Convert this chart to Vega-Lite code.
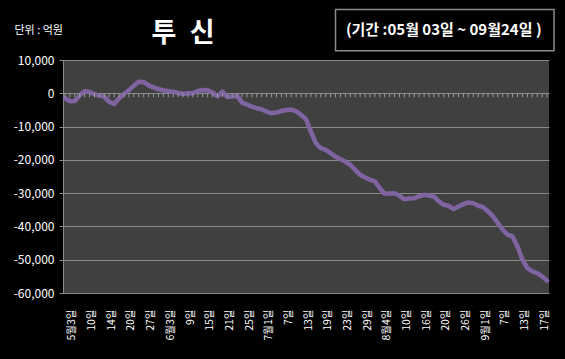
{
  "$schema": "https://vega.github.io/schema/vega-lite/v6.json",
  "width": 486,
  "height": 233,
  "autosize": {"type": "none"},
  "padding": {"left": 63, "top": 60, "right": 16, "bottom": 66},
  "background": "black",
  "config": {
    "view": {"fill": "#404040", "stroke": null},
    "font": "Noto Sans CJK KR",
    "axisY": {
      "tickCount": 8,
      "labelExpr": "replace(format(datum.value, ','), '\u2212', '-')",
      "titleAngle": 0,
      "titleX": -49,
      "titleY": -30,
      "titleAlign": "left",
      "titleBaseline": "middle",
      "titleFontSize": 11,
      "titleFontWeight": "normal",
      "titleColor": "white",
      "labelColor": "white",
      "labelFontSize": 12,
      "labelPadding": 5,
      "labelOverlap": false,
      "labelBound": false,
      "labelFlush": false,
      "tickColor": "#8a8a8a",
      "tickSize": 4,
      "domainColor": "#8a8a8a",
      "grid": true,
      "gridColor": "#8a8a8a",
      "gridOpacity": 1
    },
    "axisX": {
      "labelAngle": -90,
      "labelColor": "white",
      "labelFontSize": 10.5,
      "labelPadding": 16,
      "labelOffset": 7,
      "labelOverlap": false,
      "ticks": false,
      "domain": false,
      "grid": false
    }
  },
  "datasets": {
    "flow": [
      {"d": "05-03", "v": -1500}, {"d": "05-04", "v": -2400}, {"d": "05-06", "v": -2300}, {"d": "05-07", "v": -600},
      {"d": "05-10", "v": 600}, {"d": "05-11", "v": 400}, {"d": "05-12", "v": -300}, {"d": "05-13", "v": -700},
      {"d": "05-14", "v": -1000}, {"d": "05-17", "v": -2600}, {"d": "05-18", "v": -3200}, {"d": "05-19", "v": -1500},
      {"d": "05-20", "v": -200}, {"d": "05-24", "v": 900}, {"d": "05-25", "v": 2300}, {"d": "05-26", "v": 3500},
      {"d": "05-27", "v": 3400}, {"d": "05-28", "v": 2400}, {"d": "05-31", "v": 1800}, {"d": "06-01", "v": 1200},
      {"d": "06-03", "v": 900}, {"d": "06-04", "v": 600}, {"d": "06-07", "v": 500}, {"d": "06-08", "v": 100},
      {"d": "06-09", "v": -200}, {"d": "06-10", "v": 0}, {"d": "06-11", "v": 0}, {"d": "06-14", "v": 700},
      {"d": "06-15", "v": 1000}, {"d": "06-16", "v": 900}, {"d": "06-17", "v": 200}, {"d": "06-18", "v": -900},
      {"d": "06-21", "v": 500}, {"d": "06-22", "v": -1100}, {"d": "06-23", "v": -1000}, {"d": "06-24", "v": -800},
      {"d": "06-25", "v": -2800}, {"d": "06-28", "v": -3400}, {"d": "06-29", "v": -4000}, {"d": "06-30", "v": -4500},
      {"d": "07-01", "v": -4800}, {"d": "07-02", "v": -5500}, {"d": "07-05", "v": -6000}, {"d": "07-06", "v": -5800},
      {"d": "07-07", "v": -5300}, {"d": "07-08", "v": -5000}, {"d": "07-09", "v": -4900}, {"d": "07-12", "v": -5400},
      {"d": "07-13", "v": -6500}, {"d": "07-14", "v": -7800}, {"d": "07-15", "v": -11500}, {"d": "07-16", "v": -15000},
      {"d": "07-19", "v": -16500}, {"d": "07-20", "v": -17000}, {"d": "07-21", "v": -18000}, {"d": "07-22", "v": -19000},
      {"d": "07-23", "v": -19800}, {"d": "07-26", "v": -20500}, {"d": "07-27", "v": -21500}, {"d": "07-28", "v": -23000},
      {"d": "07-29", "v": -24500}, {"d": "07-30", "v": -25300}, {"d": "08-02", "v": -26000}, {"d": "08-03", "v": -26500},
      {"d": "08-04", "v": -28500}, {"d": "08-05", "v": -30200}, {"d": "08-06", "v": -30100}, {"d": "08-09", "v": -30000},
      {"d": "08-10", "v": -30800}, {"d": "08-11", "v": -31800}, {"d": "08-12", "v": -31600}, {"d": "08-13", "v": -31500},
      {"d": "08-16", "v": -31000}, {"d": "08-17", "v": -30500}, {"d": "08-18", "v": -30700}, {"d": "08-19", "v": -31000},
      {"d": "08-20", "v": -32500}, {"d": "08-23", "v": -33500}, {"d": "08-24", "v": -33800}, {"d": "08-25", "v": -34800},
      {"d": "08-26", "v": -34000}, {"d": "08-27", "v": -33300}, {"d": "08-30", "v": -32800}, {"d": "08-31", "v": -33000},
      {"d": "09-01", "v": -33800}, {"d": "09-02", "v": -34200}, {"d": "09-03", "v": -35500}, {"d": "09-06", "v": -37000},
      {"d": "09-07", "v": -39000}, {"d": "09-08", "v": -41000}, {"d": "09-09", "v": -42500}, {"d": "09-10", "v": -43000},
      {"d": "09-13", "v": -46000}, {"d": "09-14", "v": -50000}, {"d": "09-15", "v": -52500}, {"d": "09-16", "v": -53500},
      {"d": "09-17", "v": -54000}, {"d": "09-20", "v": -55000}, {"d": "09-24", "v": -56300}
    ],
    "period": [{"t": "(기간 :05월 03일 ~ 09월24일 )"}],
    "heading": [{"t": "투\u2002신"}]
  },
  "layer": [
    {
      "data": {"name": "flow"},
      "mark": {"type": "line", "color": "#8064A2", "strokeWidth": 4.5, "strokeJoin": "round", "strokeCap": "round"},
      "encoding": {
        "x": {
          "field": "d",
          "type": "ordinal",
          "sort": null,
          "scale": {"type": "point", "padding": 0.4},
          "axis": {
            "title": null,
            "values": ["05-03","05-10","05-14","05-20","05-27","06-03","06-09","06-15","06-21","06-25","07-01","07-07","07-13","07-19","07-23","07-29","08-04","08-10","08-16","08-20","08-26","09-01","09-07","09-13","09-17"],
            "labelExpr": "(indexof(['05-03','06-03','07-01','08-04','09-01'], datum.value) >= 0 ? toNumber(slice(datum.value,0,2)) + '월' : '') + toNumber(slice(datum.value,3)) + '일'"
          }
        },
        "y": {
          "field": "v",
          "type": "quantitative",
          "scale": {"domain": [-60000, 10000], "nice": false, "zero": false},
          "axis": {
            "title": "단위 : 억원",
            "values": [-60000, -50000, -40000, -30000, -20000, -10000, 0, 10000]
          }
        }
      }
    },
    {
      "data": {"name": "flow"},
      "mark": {"type": "rule", "color": "#9a9a9a", "strokeWidth": 1},
      "encoding": {
        "x": {"field": "d", "type": "ordinal", "sort": null},
        "y": {"datum": 0},
        "y2": {"datum": -1200}
      }
    },
    {
      "data": {"name": "period"},
      "mark": {"type": "rect", "fill": "black", "stroke": "#8a8a8a", "strokeWidth": 1.5, "x2Offset": 7},
      "encoding": {
        "x": {"datum": "07-22"},
        "x2": {"datum": "09-24"},
        "y": {"datum": 25200},
        "y2": {"datum": 12800}
      }
    },
    {
      "data": {"name": "period"},
      "mark": {"type": "text", "color": "white", "fontSize": 15, "fontWeight": "bold", "align": "center", "baseline": "middle"},
      "encoding": {
        "x": {"datum": "08-23"},
        "y": {"datum": 19000},
        "text": {"field": "t"}
      }
    },
    {
      "data": {"name": "heading"},
      "mark": {"type": "text", "color": "white", "fontSize": 27, "fontWeight": "bold", "align": "center", "baseline": "middle"},
      "encoding": {
        "x": {"datum": "06-09"},
        "y": {"datum": 17800},
        "text": {"field": "t"}
      }
    }
  ]
}
